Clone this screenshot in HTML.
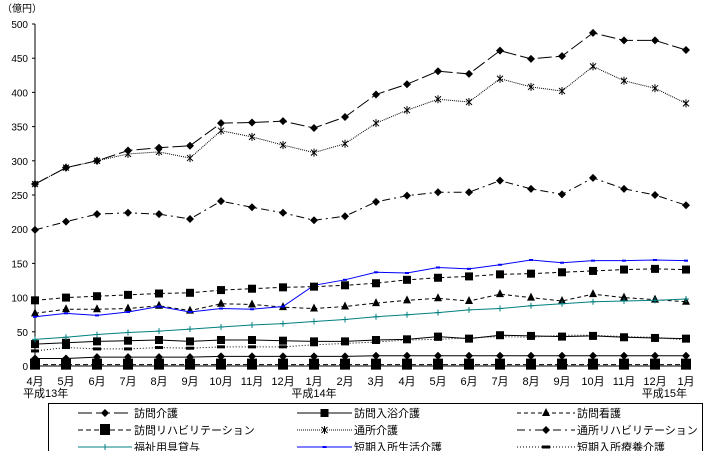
<!DOCTYPE html>
<html><head><meta charset="utf-8"><style>
body{margin:0;background:#fff;width:709px;height:451px;overflow:hidden;font-family:"Liberation Sans","Noto Sans CJK JP",sans-serif}
svg text{font-family:"Liberation Sans","Noto Sans CJK JP",sans-serif;font-size:10px;fill:#000}
svg text.big{font-size:11px}
</style></head><body>
<svg id="chart" width="709" height="451">
<text x="2" y="12">（億円）</text>
<g id="axes"></g><g id="series"></g><g id="legend"></g>
</svg>
<script>
const months=["4月","5月","6月","7月","8月","9月","10月","11月","12月","1月","2月","3月","4月","5月","6月","7月","8月","9月","10月","11月","12月","1月"];
const yearLabels=["平成13年","平成14年","平成15年"];
const yearIdx=[0,9,21];
const yTicks=[0,50,100,150,200,250,300,350,400,450,500];
const homonKaigo=[266,290,300,315,319,322,355,356,358,348,364,397,412,431,427,461,449,453,487,476,476,462];
const tsushoKaigo=[266,290,300,310,313,304,344,335,323,312,325,355,374,390,386,420,408,402,438,417,406,384];
const tsushoRiha=[199,211,222,224,222,215,241,232,224,213,219,240,249,254,254,271,259,251,275,259,250,235];
const tankiSeikatsu=[72,77,74,79,87,79,84,83,87,118,126,137,136,144,142,148,155,151,154,154,155,154];
const otherSquares=[96,100,102,104,106,107,111,113,115,116,118,121,126,129,131,134,135,137,139,141,142,141];
const homonKango=[77,83,83,84,88,81,91,90,86,84,87,92,96,99,95,105,100,95,105,100,97,94];
const fukushiYogu=[39,42,46,49,51,54,57,60,62,65,68,72,75,78,82,84,88,91,94,95,96,98];
const homonNyuyoku=[32,34,36,37,38,36,38,38,37,36,36,38,39,43,40,45,44,43,44,42,41,40];
const tankiRyoyo=[22,27,25,25,27,26,28,28,28,31,33,35,38,39,41,43,42,45,45,43,42,38];
const otherDiamonds=[11,11,13,13,13,13,14,14,14,14,14,15,15,15,15,15,15,15,15,15,15,15];
const homonRiha=[2,2,2,2,2,2,2,2,2,2,2,2,2,2,2,2,2,2,2,2,2,2];
const NS="http://www.w3.org/2000/svg";
const X0=35,X1=686,Y0=366,Y1=24;
const xs=i=>X0+(X1-X0)*i/(months.length-1);
const ys=v=>Y0-(Y0-Y1)*v/500;
function mk(tag,attrs,parent){const e=document.createElementNS(NS,tag);for(const k in attrs)e.setAttribute(k,attrs[k]);parent.appendChild(e);return e;}
const axes=document.getElementById('axes'),ser=document.getElementById('series'),leg=document.getElementById('legend');
const ya=mk('line',{x1:X0,y1:Y1,x2:X0,y2:Y0,stroke:'#000'},axes);


yTicks.forEach(t=>{
 const tl=mk('line',{x1:X0-3,x2:X0,y1:ys(t),y2:ys(t),stroke:'#000'},axes);
 
 
 const tx=mk('text',{x:X0-7,y:ys(t)+4,'text-anchor':'end'},axes);tx.textContent=t;
 
 
});
const xa=mk('line',{x1:X0,y1:Y0,x2:X1,y2:Y0,stroke:'#000'},axes);


months.forEach((m,i)=>{
 const tx=mk('text',{x:xs(i),y:385,'text-anchor':'middle','class':'big'},axes);tx.textContent=m;
 
 
});
const yearAnchor=['start','middle','end'];
const yearOff=[-12,0,1];
yearLabels.forEach((y,k)=>{
 const tx=mk('text',{x:xs(yearIdx[k])+yearOff[k],y:397,'text-anchor':yearAnchor[k],'class':'big'},axes);tx.textContent=y;
 
 
});
function marker(g,type,x,y,c){
 if(type==='diamond')mk('path',{d:`M${x} ${y-4}L${x+4} ${y}L${x} ${y+4}L${x-4} ${y}Z`,fill:c},g);
 else if(type==='square')mk('rect',{x:x-4,y:y-4,width:8,height:8,fill:c},g);
 else if(type==='bigsquare')mk('rect',{x:x-5,y:y-6,width:10,height:11,fill:c},g);
 else if(type==='triangle')mk('path',{d:`M${x} ${y-5}L${x+4} ${y+3}L${x-4} ${y+3}Z`,fill:c},g);
 else if(type==='star'){mk('path',{d:`M${x-3} ${y-3}L${x+3} ${y+3}M${x+3} ${y-3}L${x-3} ${y+3}M${x} ${y-4}L${x} ${y+4}`,stroke:c,'stroke-width':1},g);}
 else if(type==='plus'){mk('path',{d:`M${x-3} ${y}L${x+3} ${y}M${x} ${y-3}L${x} ${y+3}`,stroke:c},g);}
 else if(type==='dash')mk('rect',{x:x-4,y:y-1.5,width:8,height:3,fill:c},g);
 else if(type==='smalldash')mk('rect',{x:x-2,y:y-1,width:4,height:2,fill:c},g);
}
const defs=[
 {name:'訪問介護',data:homonKaigo,dash:'14 4',m:'diamond',c:'#000',leg:0},
 {name:'訪問入浴介護',data:homonNyuyoku,dash:'',m:'square',c:'#000',leg:1},
 {name:'訪問看護',data:homonKango,dash:'4 3',m:'triangle',c:'#000',leg:2},
 {name:'訪問リハビリテーション',data:homonRiha,dash:'5 3',m:'bigsquare',c:'#000',leg:3},
 {name:'通所介護',data:tsushoKaigo,dash:'1 1',m:'star',c:'#000',leg:4},
 {name:'通所リハビリテーション',data:tsushoRiha,dash:'8 4 2 4',m:'diamond',c:'#000',leg:5},
 {name:'福祉用具貸与',data:fukushiYogu,dash:'',m:'plus',c:'#008080',leg:6},
 {name:'短期入所生活介護',data:tankiSeikatsu,dash:'',m:'smalldash',c:'#0000ff',leg:7},
 {name:'短期入所療養介護',data:tankiRyoyo,dash:'1 2',m:'dash',c:'#000',leg:8},
 {name:'other-squares',data:otherSquares,dash:'4 3',m:'square',c:'#000',leg:-1},
 {name:'other-diamonds',data:otherDiamonds,dash:'',m:'diamond',c:'#000',leg:-1}
];
defs.forEach((s,si)=>{
 const g=mk('g',{},ser);
 
 
 const p=mk('polyline',{points:s.data.map((v,i)=>xs(i)+','+ys(v)).join(' '),fill:'none',stroke:s.c,'stroke-width':1,'stroke-dasharray':s.dash},g);
 
 
 s.data.forEach((v,i)=>marker(g,s.m,xs(i),ys(v),s.c));
});
const box=mk('rect',{x:48.5,y:403.5,width:654,height:60,fill:'#fff',stroke:'#000'},leg);


const colLine=[[78,132],[297,352],[517,575]],colText=[134,354,577],rowY=[413,430,447];
defs.filter(s=>s.leg>=0).forEach(s=>{
 const c=s.leg%3,r=Math.floor(s.leg/3);
 const g=mk('g',{},leg);
 
 
 const y=rowY[r];
 mk('line',{x1:colLine[c][0],x2:colLine[c][1],y1:y,y2:y,stroke:s.c,'stroke-dasharray':s.dash},g);
 marker(g,s.m,(colLine[c][0]+colLine[c][1])/2,y,s.c);
 const t=mk('text',{x:colText[c],y:y+4,'class':'big'},g);t.textContent=s.name;
});
</script>
</body></html>
